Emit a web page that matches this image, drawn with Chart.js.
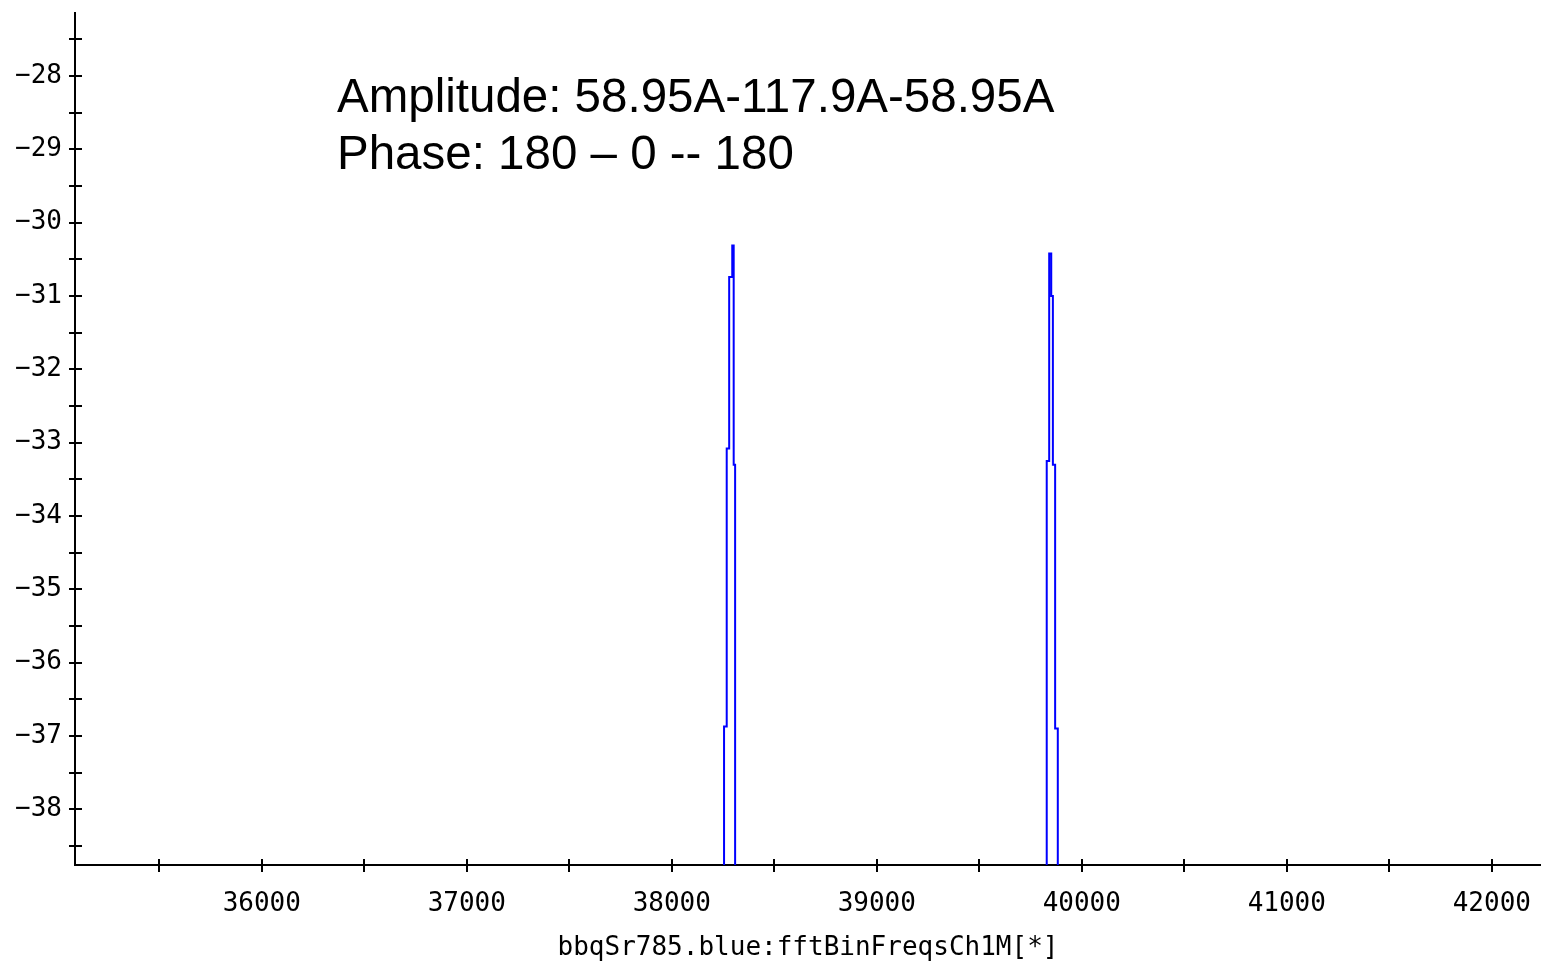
<!DOCTYPE html>
<html>
<head>
<meta charset="utf-8">
<script src="https://cdn.jsdelivr.net/npm/chart.js@4.4.0/dist/chart.umd.min.js"></script>
<style>
  html, body { margin: 0; padding: 0; background: #fff; }
  #wrap { position: relative; width: 1541px; height: 967px; }
</style>
</head>
<body>
<div id="wrap"><canvas id="fftChart"></canvas></div>
<script>
// frequency (Hz) where the trace steps, and the level (dB) held to the right of it
// -80 = off-scale floor, below the visible range
const binFreqs  = [35100, 38255, 38268, 38280, 38295, 38302, 38309, 39829, 39841, 39851, 39859, 39870, 39883, 42240];
const binLevels = [-80, -36.87, -33.08, -30.74, -30.31, -33.30, -80, -33.25, -30.42, -31.00, -33.30, -36.90, -80, -80];

const xRange = [35089, 42240];
const yRange = [-38.76, -27.14];
const xTicks = [35500, 36000, 36500, 37000, 37500, 38000, 38500, 39000, 39500, 40000, 40500, 41000, 41500, 42000];
const yTicks = [-38.5, -38, -37.5, -37, -36.5, -36, -35.5, -35, -34.5, -34, -33.5, -33, -32.5, -32,
                -31.5, -31, -30.5, -30, -29.5, -29, -28.5, -28, -27.5];

const xTitle = 'bbqSr785.blue:fftBinFreqsCh1M[*]';
const noteLines = ['Amplitude: 58.95A-117.9A-58.95A', 'Phase: 180 \u2013 0 -- 180'];

const axisFont = { family: "'DejaVu Sans Mono', monospace", size: 26 };

// tick marks that cross the axis line, like the original plot
const crossTicks = {
    id: 'crossTicks',
    afterDatasetsDraw(chart) {
        const { ctx, scales: { x, y } } = chart;
        ctx.save();
        ctx.strokeStyle = '#000';
        ctx.lineWidth = 2;
        ctx.beginPath();
        x.ticks.forEach(t => {
            const px = Math.round(x.getPixelForValue(t.value));
            ctx.moveTo(px, y.bottom - 6);
            ctx.lineTo(px, y.bottom + 7);
        });
        y.ticks.forEach(t => {
            const py = Math.round(y.getPixelForValue(t.value));
            ctx.moveTo(x.left - 6, py);
            ctx.lineTo(x.left + 7, py);
        });
        ctx.stroke();
        ctx.restore();
    }
};

const notes = {
    id: 'notes',
    afterDraw(chart) {
        const ctx = chart.ctx;
        ctx.save();
        ctx.fillStyle = '#000';
        ctx.font = "47.5px 'Liberation Sans', Arial, sans-serif";
        ctx.textBaseline = 'alphabetic';
        ctx.textAlign = 'left';
        noteLines.forEach((line, i) => ctx.fillText(line, 337, 112 + i * 57));
        ctx.restore();
    }
};

new Chart(document.getElementById('fftChart'), {
    type: 'line',
    data: {
        datasets: [{
            data: binFreqs.map((f, i) => ({ x: f, y: binLevels[i] })),
            borderColor: '#0000ff',
            borderWidth: 2,
            pointRadius: 0,
            stepped: true,
            fill: false
        }]
    },
    options: {
        responsive: true,
        maintainAspectRatio: false,
        animation: false,
        layout: { padding: { top: 13, right: 0, left: 0, bottom: 0 } },
        plugins: {
            legend: { display: false },
            tooltip: { enabled: false }
        },
        scales: {
            x: {
                type: 'linear',
                min: xRange[0],
                max: xRange[1],
                grid: { display: false, drawTicks: true, tickLength: 6 },
                border: { display: true, color: '#000', width: 2 },
                afterBuildTicks(scale) {
                    scale.ticks = xTicks.map(v => ({ value: v }));
                },
                ticks: {
                    autoSkip: false,
                    maxRotation: 0,
                    padding: 18,
                    color: '#000',
                    font: axisFont,
                    callback: v => (v % 1000 === 0 ? String(v) : '')
                },
                title: {
                    display: true,
                    text: xTitle,
                    color: '#000',
                    font: axisFont,
                    padding: { top: 4, bottom: 3 }
                },
                afterFit(scale) {
                    scale.height = 102;
                    scale.paddingLeft = 0;
                    scale.paddingRight = 0;
                }
            },
            y: {
                min: yRange[0],
                max: yRange[1],
                grid: { display: false, drawTicks: true, tickLength: 6 },
                border: { display: true, color: '#000', width: 2 },
                afterBuildTicks(scale) {
                    scale.ticks = yTicks.map(v => ({ value: v }));
                },
                ticks: {
                    autoSkip: false,
                    padding: 7,
                    color: '#000',
                    font: axisFont,
                    callback: v => (Number.isInteger(v) ? String(v).replace('-', '\u2212') : '')
                },
                afterFit(scale) {
                    scale.width = 75;
                    scale.paddingTop = 0;
                    scale.paddingBottom = 0;
                }
            }
        }
    },
    plugins: [crossTicks, notes]
});
</script>
</body>
</html>
